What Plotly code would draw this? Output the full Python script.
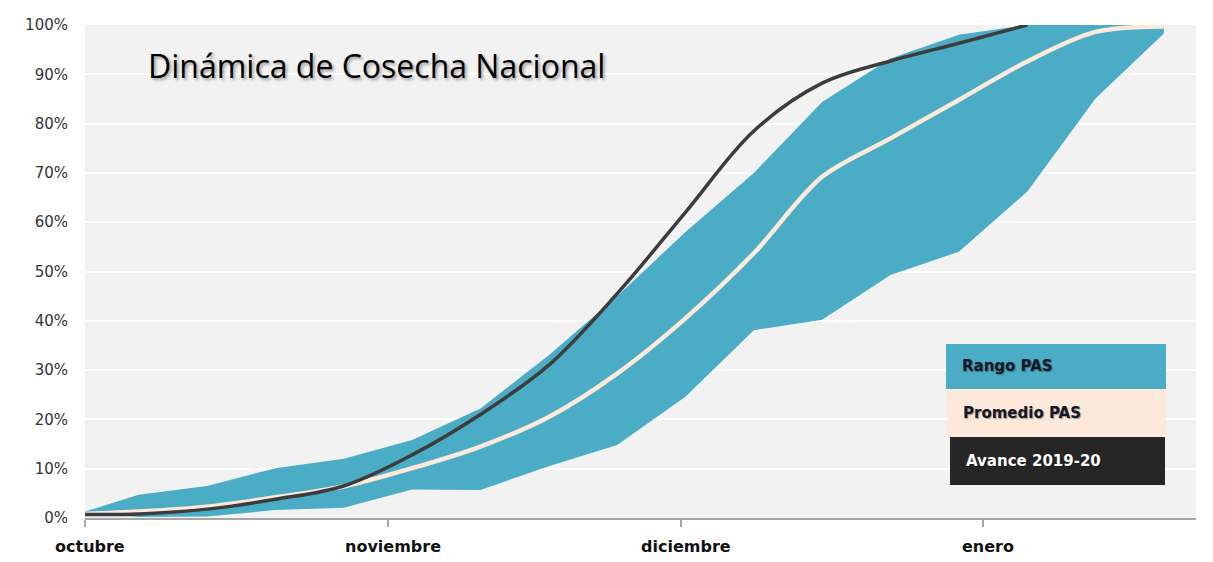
import plotly.graph_objects as go

# ---- data (weekly points, share of national harvest) ----
fechas = ["2019-10-01 00:00", "2019-10-06 12:00", "2019-10-13 12:00", "2019-10-20 12:00",
          "2019-10-27 12:00", "2019-11-03 12:00", "2019-11-10 12:00", "2019-11-17 12:00",
          "2019-11-24 12:00", "2019-12-01 12:00", "2019-12-08 12:00", "2019-12-15 12:00",
          "2019-12-22 12:00", "2019-12-29 12:00", "2020-01-05 12:00", "2020-01-12 12:00",
          "2020-01-19 12:00"]
rango_min = [0.010, 0.002, 0.003, 0.016, 0.021, 0.058, 0.057, 0.105, 0.148, 0.246, 0.381,
             0.402, 0.493, 0.540, 0.662, 0.851, 0.983]
rango_max = [0.013, 0.047, 0.065, 0.101, 0.120, 0.158, 0.222, 0.330, 0.450, 0.580, 0.700,
             0.844, 0.932, 0.980, 1.000, 1.000, 1.000]
promedio = [0.008, 0.013, 0.023, 0.042, 0.064, 0.101, 0.145, 0.205, 0.293, 0.405, 0.537,
            0.692, 0.770, 0.848, 0.926, 0.986, 0.997]
avance_fechas = fechas[:15]
avance = [0.007, 0.008, 0.018, 0.038, 0.065, 0.128, 0.210, 0.310, 0.455, 0.620, 0.785,
          0.882, 0.927, 0.963, 1.000]

mes_vals = ["2019-10-01", "2019-11-01", "2019-12-01", "2020-01-01"]
mes_text = ["octubre", "noviembre", "diciembre", "enero"]
y_ticks = [i / 10 for i in range(11)]

legend_items = ["Rango PAS", "Promedio PAS", "Avance 2019-20"]

TEAL = "#4bacc6"
PEACH = "#fde9d9"
DARK = "#3c3c3c"

OFF = 8  # page body margin
W, H = 1213 - OFF, 562 - OFF
PLOT_L, PLOT_R, PLOT_T, PLOT_B = 85, 1196, 25, 518  # in page pixels
L, T = PLOT_L - OFF, PLOT_T - OFF
R, B = W - (PLOT_R - OFF), H - (PLOT_B - OFF)
PW, PH = PLOT_R - PLOT_L, PLOT_B - PLOT_T


def px(x):
    return (x - PLOT_L) / PW


def py(y):
    return (PLOT_B - y) / PH


fig = go.Figure()
fig.add_trace(go.Scatter(x=fechas, y=rango_min, mode="lines", line=dict(width=0, color=TEAL),
                         showlegend=False, hoverinfo="skip"))
fig.add_trace(go.Scatter(x=fechas, y=rango_max, mode="lines", line=dict(width=0, color=TEAL),
                         fill="tonexty", fillcolor=TEAL, name=legend_items[0], showlegend=False))
fig.add_trace(go.Scatter(x=fechas, y=promedio, mode="lines",
                         line=dict(width=4.5, color=PEACH, shape="spline", smoothing=0.9),
                         name=legend_items[1], showlegend=False))
fig.add_trace(go.Scatter(x=avance_fechas, y=avance, mode="lines",
                         line=dict(width=3.5, color=DARK, shape="spline", smoothing=1.0),
                         name=legend_items[2], showlegend=False))

# custom legend boxes
boxes = [
    (946, 1166, 344, 389, TEAL, legend_items[0], "#10182a"),
    (947, 1166, 389, 437, PEACH, legend_items[1], "#10182a"),
    (950, 1165, 437, 485, "#262626", legend_items[2], "#ffffff"),
]
shapes = []
annotations = []
for x0, x1, y0, y1, col, txt, tcol in boxes:
    shapes.append(dict(type="rect", xref="paper", yref="paper", x0=px(x0), x1=px(x1),
                       y0=py(y1), y1=py(y0), fillcolor=col, line=dict(width=0), layer="above"))
    annotations.append(dict(text="<b>" + txt + "</b>", xref="paper", yref="paper",
                            x=px(x0 + 14), y=py((y0 + y1) / 2), xanchor="left", yanchor="middle",
                            showarrow=False,
                            font=dict(family="DejaVu Sans", size=15, color=tcol,
                                      shadow="1px 1px 1px rgba(0,0,0,0.35)")))

# month labels (slightly right of the tick marks, as in the original)
for v, t in zip(mes_vals, mes_text):
    annotations.append(dict(text="<b>" + t + "</b>", xref="x", yref="paper", x=v, y=py(546),
                            xanchor="center", yanchor="middle", xshift=5, showarrow=False,
                            font=dict(family="DejaVu Sans", size=16, color="#111111")))

annotations.append(dict(text="Dinámica de Cosecha Nacional", xref="paper", yref="paper",
                        x=px(146), y=py(65), xanchor="left", yanchor="middle", showarrow=False,
                        font=dict(family="Open Sans", size=32, color="#000000",
                                  shadow="2px 2px 3px rgba(0,0,0,0.35)")))

fig.update_layout(
    width=W, height=H,
    margin=dict(l=L, r=R, t=T, b=B, autoexpand=False),
    paper_bgcolor="white", plot_bgcolor="#f2f2f2",
    shapes=shapes, annotations=annotations,
    showlegend=False,
    xaxis=dict(type="date", range=["2019-10-01", "2020-01-22 19:00"],
               tickvals=mes_vals, ticktext=[""] * len(mes_vals), ticks="outside", ticklen=7,
               tickcolor="#a6a6a6", tickwidth=1.5, showgrid=False, showline=True,
               linecolor="#a6a6a6", linewidth=2, zeroline=False),
    yaxis=dict(range=[0, 1], tickvals=y_ticks, tickformat=".0%", showgrid=True,
               gridcolor="white", gridwidth=1.5, zeroline=False, showline=False,
               ticks="", ticklabelstandoff=16,
               tickfont=dict(family="DejaVu Sans", size=15, color="#333333")),
)

fig.write_html("out.html")
